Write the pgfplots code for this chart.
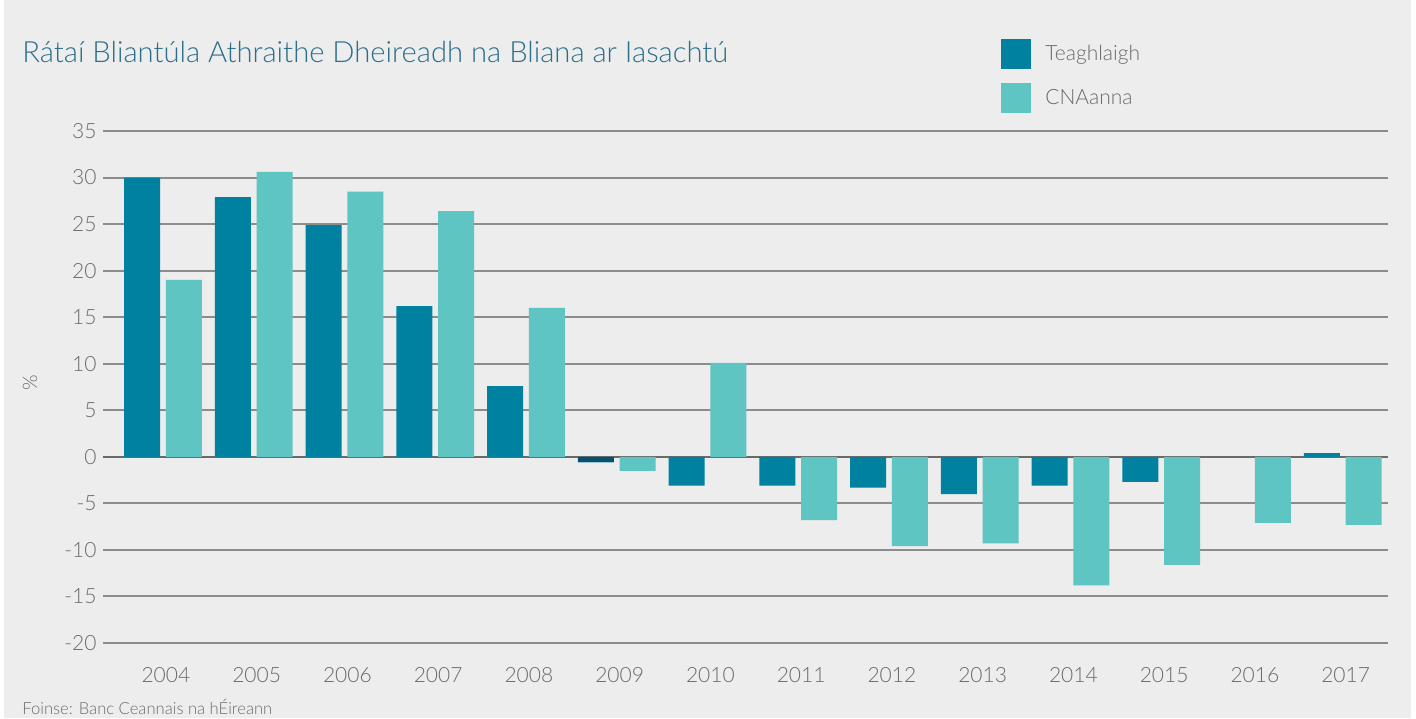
\documentclass[border=0pt]{standalone}
\usepackage{pgfplots}
\pgfplotsset{compat=1.18}
\usepackage{fontspec}
\setmainfont{Lato Light}
\definecolor{bgc}{HTML}{EDEDED}
\definecolor{tcol}{HTML}{00819F}
\definecolor{tdark}{HTML}{0A4F6E}
\definecolor{ccol}{HTML}{5EC5C2}
\definecolor{titlec}{HTML}{2B6F8A}
\definecolor{textc}{HTML}{6A6A6A}
\definecolor{gridc}{HTML}{8C8C8C}
\definecolor{zeroc}{HTML}{6A6A6A}
\begin{document}
\begin{tikzpicture}[x=0.5pt,y=0.5pt]
\fill[white] (0,0) rectangle (1416,718);
\fill[bgc] (4,0) rectangle (1411,718);
\useasboundingbox (0,0) rectangle (1416,718);
\node[anchor=base west, inner sep=0pt, font=\fontsize{14.6pt}{18pt}\selectfont, text=titlec] at (22,655) {Rátaí Bliantúla Athraithe Dheireadh na Bliana ar Iasachtú};
\node[anchor=base west, inner sep=0pt, font=\fontsize{8.3pt}{10pt}\selectfont, text=textc] at (22,4) {Foinse: Banc Ceannais na hÉireann};
\node[rotate=90, inner sep=0pt, font=\fontsize{10pt}{12pt}\selectfont, text=textc] at (30,335) {\%};
\begin{axis}[
  at={(51.5pt,37.5pt)}, anchor=south west,
  scale only axis, width=642.5pt, height=256pt,
  xmin=-0.66, xmax=13.5, ymin=-20, ymax=35,
  xtick={0,...,13},
  xticklabels={2004,2005,2006,2007,2008,2009,2010,2011,2012,2013,2014,2015,2016,2017},
  ytick={-20,-15,...,35},
  /pgf/number format/assume math mode=true,
  axis line style={draw=none},
  major tick length=0pt,
  ymajorgrids, grid style={line width=1pt, gridc},
  tick label style={font=\fontsize{10.5pt}{12pt}\selectfont, text=textc, inner sep=0pt},
  yticklabel style={xshift=-3pt},
  xticklabel style={yshift=-12pt, xshift=1.5pt},
  extra y ticks={0}, extra y tick labels={},
  extra y tick style={grid style={line width=1.2pt, zeroc}},
  legend style={at={(0.6988,1.1797)}, anchor=north west, draw=none, fill=none, inner sep=0pt,
    row sep=7pt, font=\fontsize{10.5pt}{12pt}\selectfont, text=textc,
    nodes={inner sep=0pt},
    /tikz/every odd column/.append style={column sep=7pt}},
  legend cell align=left,
  legend image code/.code={\fill[#1] (0pt,-7.5pt) rectangle (15pt,7.5pt);},
]
\addplot[ybar, fill=tcol, draw=none, bar width=0.397, bar shift=-0.23] coordinates {
(0,30.0) (1,27.9) (2,24.9) (3,16.2) (4,7.6) (5,-0.6) (6,-3.1) (7,-3.1) (8,-3.3) (9,-4.0) (10,-3.1) (11,-2.7) (13,0.4)};
\addlegendentry{Teaghlaigh}
\addplot[ybar, fill=ccol, draw=none, bar width=0.397, bar shift=0.23] coordinates {
(0,19.0) (1,30.6) (2,28.5) (3,26.4) (4,16.0) (5,-1.5) (6,10.1) (7,-6.8) (8,-9.6) (9,-9.3) (10,-13.8) (11,-11.6) (12,-7.1) (13,-7.3)};
\addlegendentry{CNAanna}
\addplot[ybar, fill=tdark, draw=none, bar width=0.397, bar shift=-0.23, forget plot] coordinates {(5,-0.6)};
\end{axis}
\end{tikzpicture}
\end{document}
